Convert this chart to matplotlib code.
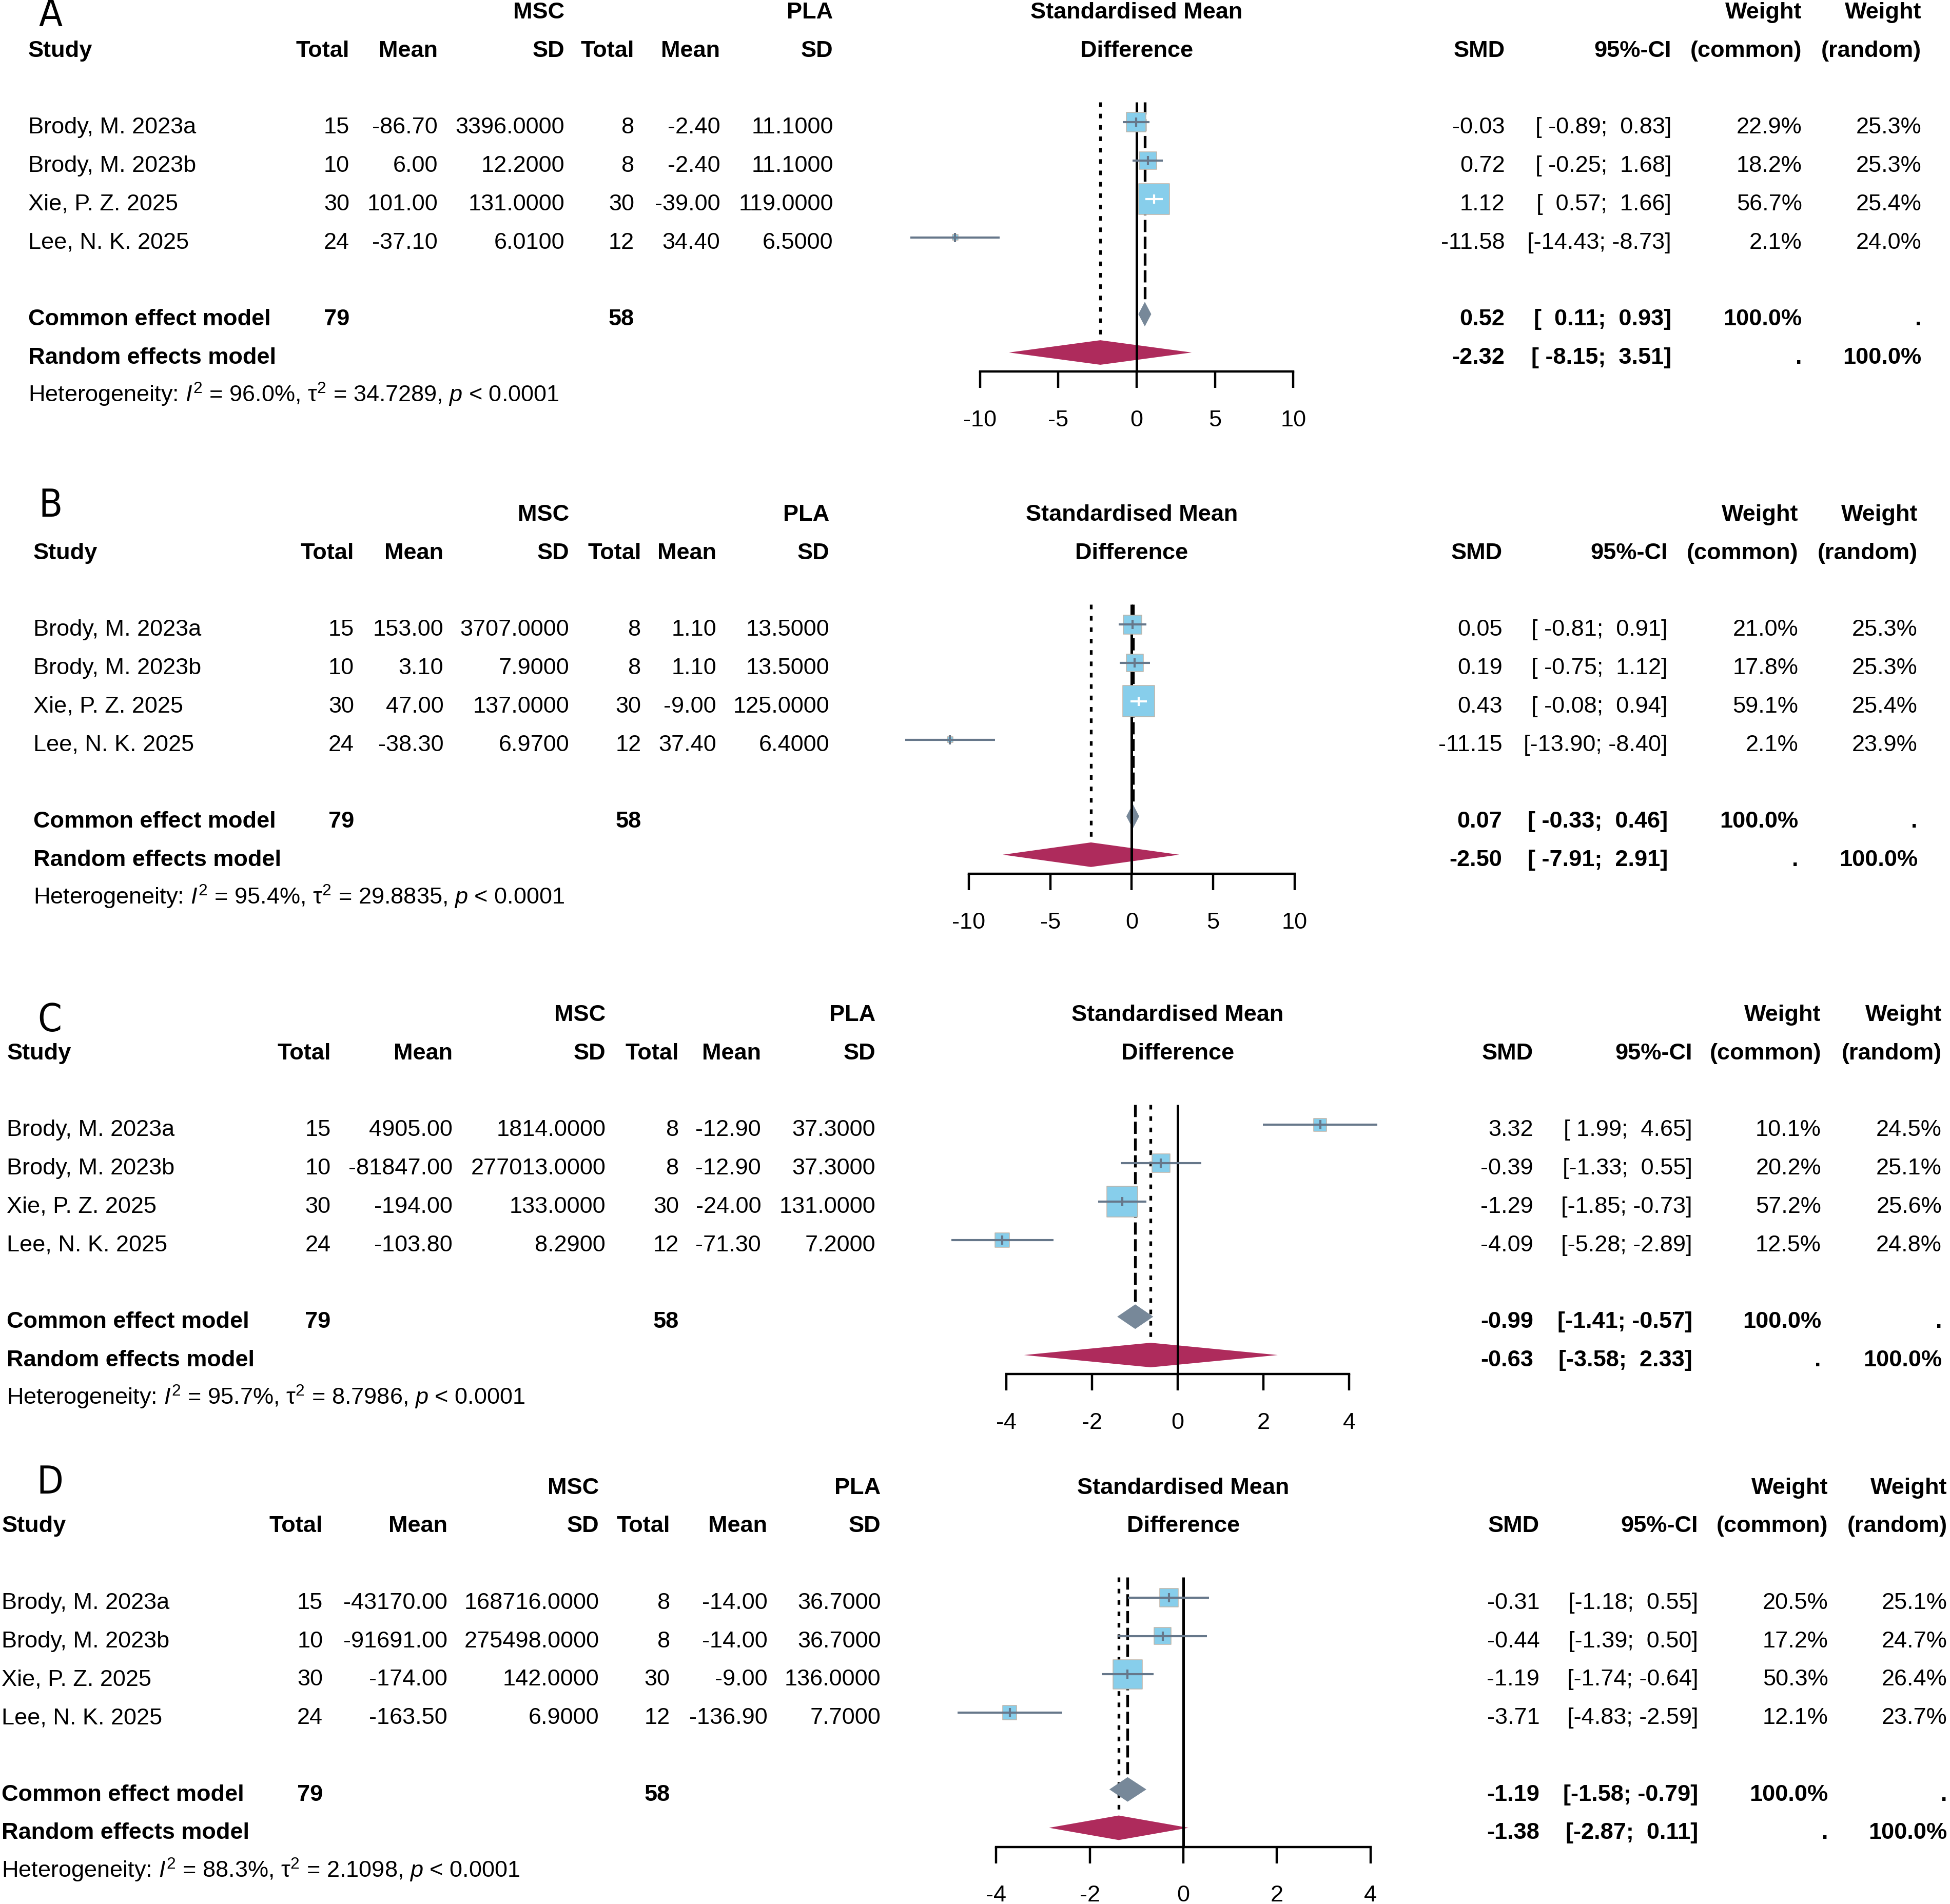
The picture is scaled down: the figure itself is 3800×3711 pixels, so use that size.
import matplotlib
matplotlib.use("Agg")
import matplotlib.pyplot as plt
from matplotlib import font_manager as fm
import numpy as np

plt.rcParams['font.family'] = ['Liberation Sans', 'DejaVu Sans']
plt.rcParams['axes.unicode_minus'] = False
plt.rcParams['mathtext.fontset'] = 'custom'
plt.rcParams['mathtext.rm'] = 'Liberation Sans'
plt.rcParams['mathtext.it'] = 'Liberation Sans:italic'
plt.rcParams['mathtext.bf'] = 'Liberation Sans:bold'

# ---------------- data ----------------
studies = ["Brody, M. 2023a", "Brody, M. 2023b", "Xie, P. Z. 2025", "Lee, N. K. 2025"]
msc_total = [15, 10, 30, 24]
pla_total = [8, 8, 30, 12]

A_msc_mean = [-86.70, 6.00, 101.00, -37.10]
A_msc_sd = [3396.0, 12.2, 131.0, 6.01]
A_pla_mean = [-2.40, -2.40, -39.00, 34.40]
A_pla_sd = [11.1, 11.1, 119.0, 6.5]
A_smd = [-0.03, 0.72, 1.12, -11.58]
A_lo = [-0.89, -0.25, 0.57, -14.43]
A_hi = [0.83, 1.68, 1.66, -8.73]
A_w_common = [22.9, 18.2, 56.7, 2.1]
A_w_random = [25.3, 25.3, 25.4, 24.0]
A_common = [0.52, 0.11, 0.93]
A_random = [-2.32, -8.15, 3.51]
A_het = [96.0, 34.7289]

B_msc_mean = [153.00, 3.10, 47.00, -38.30]
B_msc_sd = [3707.0, 7.9, 137.0, 6.97]
B_pla_mean = [1.10, 1.10, -9.00, 37.40]
B_pla_sd = [13.5, 13.5, 125.0, 6.4]
B_smd = [0.05, 0.19, 0.43, -11.15]
B_lo = [-0.81, -0.75, -0.08, -13.90]
B_hi = [0.91, 1.12, 0.94, -8.40]
B_w_common = [21.0, 17.8, 59.1, 2.1]
B_w_random = [25.3, 25.3, 25.4, 23.9]
B_common = [0.07, -0.33, 0.46]
B_random = [-2.50, -7.91, 2.91]
B_het = [95.4, 29.8835]

C_msc_mean = [4905.00, -81847.00, -194.00, -103.80]
C_msc_sd = [1814.0, 277013.0, 133.0, 8.29]
C_pla_mean = [-12.90, -12.90, -24.00, -71.30]
C_pla_sd = [37.3, 37.3, 131.0, 7.2]
C_smd = [3.32, -0.39, -1.29, -4.09]
C_lo = [1.99, -1.33, -1.85, -5.28]
C_hi = [4.65, 0.55, -0.73, -2.89]
C_w_common = [10.1, 20.2, 57.2, 12.5]
C_w_random = [24.5, 25.1, 25.6, 24.8]
C_common = [-0.99, -1.41, -0.57]
C_random = [-0.63, -3.58, 2.33]
C_het = [95.7, 8.7986]

D_msc_mean = [-43170.00, -91691.00, -174.00, -163.50]
D_msc_sd = [168716.0, 275498.0, 142.0, 6.9]
D_pla_mean = [-14.00, -14.00, -9.00, -136.90]
D_pla_sd = [36.7, 36.7, 136.0, 7.7]
D_smd = [-0.31, -0.44, -1.19, -3.71]
D_lo = [-1.18, -1.39, -1.74, -4.83]
D_hi = [0.55, 0.50, -0.64, -2.59]
D_w_common = [20.5, 17.2, 50.3, 12.1]
D_w_random = [25.1, 24.7, 26.4, 23.7]
D_common = [-1.19, -1.58, -0.79]
D_random = [-1.38, -2.87, 0.11]
D_het = [88.3, 2.1098]

ticks_wide = [-10, -5, 0, 5, 10]
ticks_narrow = [-4, -2, 0, 2, 4]

data = {
    'A': (A_msc_mean, A_msc_sd, A_pla_mean, A_pla_sd, A_smd, A_lo, A_hi,
          A_w_common, A_w_random, A_common, A_random, A_het, ticks_wide),
    'B': (B_msc_mean, B_msc_sd, B_pla_mean, B_pla_sd, B_smd, B_lo, B_hi,
          B_w_common, B_w_random, B_common, B_random, B_het, ticks_wide),
    'C': (C_msc_mean, C_msc_sd, C_pla_mean, C_pla_sd, C_smd, C_lo, C_hi,
          C_w_common, C_w_random, C_common, C_random, C_het, ticks_narrow),
    'D': (D_msc_mean, D_msc_sd, D_pla_mean, D_pla_sd, D_smd, D_lo, D_hi,
          D_w_common, D_w_random, D_common, D_random, D_het, ticks_narrow),
}

# ---------------- layout (in a 1568 x 1531.7 unit page) ----------------
W, H = 1568.0, 1531.7
FIG_W_PX = 3800
ROW = 30.85
FS = 32.5
CAP = 0.716 * FS * (100 / 72) / (FIG_W_PX / W) / 2  # half cap height in page units

layout = {
    'A': dict(base=100.8, study_x=22.7, cols=[281, 352, 454, 510, 579, 670],
              right=[1210, 1344, 1449, 1545], axis=(788, 1040), letter=(40.5, 12.5)),
    'B': dict(base=504.7, study_x=26.8, cols=[284.7, 356.7, 457.8, 515.6, 576, 666.8],
              right=[1208, 1341, 1446, 1542], axis=(779, 1041), letter=(40.5, 407)),
    'C': dict(base=907.1, study_x=5.5, cols=[266, 364, 487, 546, 612, 704],
              right=[1232.8, 1360.8, 1464.4, 1561.4], axis=(809, 1085), letter=(40.0, 821)),
    'D': dict(base=1287.3, study_x=1.4, cols=[259.7, 359.7, 481.7, 538.8, 617, 708.3],
              right=[1238, 1365.5, 1470, 1565.8], axis=(801, 1102), letter=(40.0, 1192.7)),
}

COL_SQ = '#87CEEB'
COL_SQ_EDGE = '#C0B4A8'
COL_LINE = '#66778A'
COL_COMMON = '#778899'
COL_RANDOM = '#AE2B5C'

# narrow font for the panel letters, if one is installed
letter_kw = dict(family='Liberation Sans', fontsize=50)
for f in fm.fontManager.ttflist:
    fn = f.fname.lower()
    if 'liberationsansnarrow-regular' in fn:
        letter_kw = dict(fontproperties=fm.FontProperties(fname=f.fname, size=56))
        break
else:
    for f in fm.fontManager.ttflist:
        if f.fname.endswith('DejaVuSansCondensed.ttf'):
            letter_kw = dict(fontproperties=fm.FontProperties(fname=f.fname, size=54))
            break


def fmt_ci(los, his):
    ls = [f"{v:.2f}" for v in los]
    hs = [f"{v:.2f}" for v in his]
    wl = max(len(s) for s in ls)
    wh = max(len(s) for s in hs)
    return ["[" + l.rjust(wl) + "; " + h.rjust(wh) + "]" for l, h in zip(ls, hs)]


fig = plt.figure(figsize=(38, 37.12), dpi=100)
bg = fig.add_axes([0, 0, 1, 1])
bg.set_xlim(0, W)
bg.set_ylim(H, 0)
bg.axis('off')


def txt(x, yc, s, ha='right', bold=False, **kw):
    bg.text(x, yc + CAP, s, ha=ha, va='baseline', fontsize=FS,
            fontweight='bold' if bold else 'normal', **kw)


for key in ['A', 'B', 'C', 'D']:
    (mm, msd, pm, psd, smd, lo, hi, wc, wr, com, ran, het, ticks) = data[key]
    L = layout[key]
    base = L['base']

    def ty(r):
        return base + ROW * r

    c = L['cols']
    rt = L['right']
    x0, x1 = L['axis']
    xc = (x0 + x1) / 2

    bg.text(L['letter'][0], L['letter'][1], key, ha='center', va='center', **letter_kw)

    # headers
    txt(c[2], ty(-3), "MSC", bold=True)
    txt(c[5], ty(-3), "PLA", bold=True)
    txt(xc, ty(-3), "Standardised Mean", ha='center', bold=True)
    txt(rt[2], ty(-3), "Weight", bold=True)
    txt(rt[3], ty(-3), "Weight", bold=True)
    txt(L['study_x'], ty(-2), "Study", ha='left', bold=True)
    for x, s in zip(c, ["Total", "Mean", "SD", "Total", "Mean", "SD"]):
        txt(x, ty(-2), s, bold=True)
    txt(xc, ty(-2), "Difference", ha='center', bold=True)
    for x, s in zip(rt, ["SMD", "95%-CI", "(common)", "(random)"]):
        txt(x, ty(-2), s, bold=True)

    cis = fmt_ci(lo + [com[1], ran[1]], hi + [com[2], ran[2]])

    for i in range(4):
        y = ty(i)
        txt(L['study_x'], y, studies[i], ha='left')
        txt(c[0], y, str(msc_total[i]))
        txt(c[1], y, f"{mm[i]:.2f}")
        txt(c[2], y, f"{msd[i]:.4f}")
        txt(c[3], y, str(pla_total[i]))
        txt(c[4], y, f"{pm[i]:.2f}")
        txt(c[5], y, f"{psd[i]:.4f}")
        txt(rt[0], y, f"{smd[i]:.2f}")
        txt(rt[1], y, cis[i])
        txt(rt[2], y, f"{wc[i]:.1f}%")
        txt(rt[3], y, f"{wr[i]:.1f}%")

    y = ty(5)
    txt(L['study_x'], y, "Common effect model", ha='left', bold=True)
    txt(c[0], y, str(sum(msc_total)), bold=True)
    txt(c[3], y, str(sum(pla_total)), bold=True)
    txt(rt[0], y, f"{com[0]:.2f}", bold=True)
    txt(rt[1], y, cis[4], bold=True)
    txt(rt[2], y, "100.0%", bold=True)
    txt(rt[3], y, ".", bold=True)

    y = ty(6)
    txt(L['study_x'], y, "Random effects model", ha='left', bold=True)
    txt(rt[0], y, f"{ran[0]:.2f}", bold=True)
    txt(rt[1], y, cis[5], bold=True)
    txt(rt[2], y, ".", bold=True)
    txt(rt[3], y, "100.0%", bold=True)

    txt(L['study_x'], ty(7),
        r"Heterogeneity: $I^2$ = " + f"{het[0]:.1f}%, " + r"$\mathrm{\tau}^2$ = "
        + f"{het[1]:.4f}, " + r"$p$ < 0.0001",
        ha='left')

    # ---------------- forest axes ----------------
    top_r, bot_r = -0.53, 6.5
    yt = base - 2 + ROW * top_r
    yb = base - 2 + ROW * bot_r
    ax = fig.add_axes([x0 / W, 1 - yb / H, (x1 - x0) / W, (yb - yt) / H])
    lim = max(abs(t) for t in ticks)
    ax.set_xlim(-lim, lim)
    ax.set_ylim(bot_r, top_r)
    ax.patch.set_visible(False)
    for s in ['top', 'left', 'right']:
        ax.spines[s].set_visible(False)
    ax.spines['bottom'].set_linewidth(3.2)
    ax.set_yticks([])
    ax.set_xticks(ticks)
    ax.set_xticklabels([str(t) for t in ticks])
    ax.tick_params(axis='x', direction='out', length=23, width=3.2, pad=30, labelsize=FS)

    rows = np.arange(4)
    dh = 0.32
    # reference lines
    ax.plot([0, 0], [top_r, bot_r], color='black', lw=3.6, zorder=3,
            solid_capstyle='butt', clip_on=False)
    ax.plot([com[0], com[0]], [top_r, 5 - dh], color='black', lw=3.8,
            ls=(0, (4.5, 1.7)), zorder=2, clip_on=False)
    ax.plot([ran[0], ran[0]], [top_r, 6 - dh], color='black', lw=3.8,
            ls=(0, (1.7, 2.5)), zorder=2, clip_on=False)

    # diamonds
    ax.fill([com[1], com[0], com[2], com[0]], [5, 5 - dh, 5, 5 + dh],
            color=COL_COMMON, lw=0, zorder=2.5, clip_on=False)
    ax.fill([ran[1], ran[0], ran[2], ran[0]], [6, 6 - dh, 6, 6 + dh],
            color=COL_RANDOM, lw=0, zorder=2.5, clip_on=False)

    # squares
    sizes = 32.9 * np.array(wc)
    ax.scatter(smd, rows, s=sizes, marker='s', c=COL_SQ, edgecolors=COL_SQ_EDGE,
               linewidths=1.1, zorder=4, clip_on=False)

    # CI lines (white when inside the square)
    ppu = (x1 - x0) / W * FIG_W_PX / (2 * lim)
    cols = []
    for i in range(4):
        half = np.sqrt(sizes[i]) / 0.72 / 2 / ppu
        inside = (smd[i] - lo[i]) <= half and (hi[i] - smd[i]) <= half
        cols.append('white' if inside else COL_LINE)
    ax.hlines(rows, lo, hi, colors=cols, lw=3.0, zorder=5, clip_on=False)
    ax.vlines(smd, rows - 0.12, rows + 0.12, colors=cols, lw=3.0, zorder=5, clip_on=False)

fig.savefig("out.png", dpi=100)
